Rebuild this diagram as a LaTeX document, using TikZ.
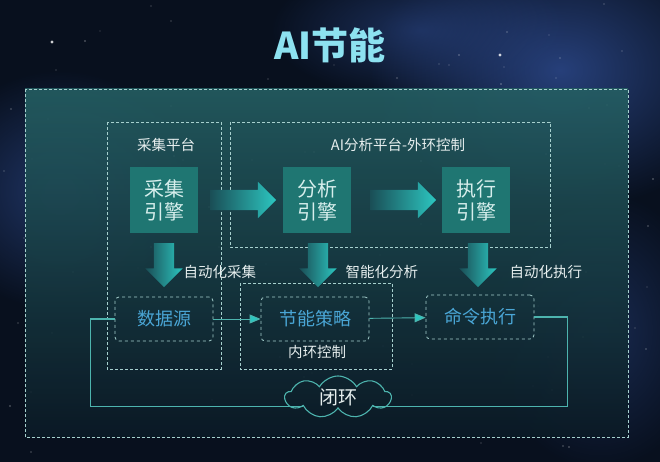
\documentclass[tikz,border=0pt]{standalone}
\usepackage{fontspec}
\setmainfont{Noto Sans CJK SC}
\usetikzlibrary{shapes.arrows,shapes.symbols,arrows.meta,fadings}

\definecolor{bgdark}{HTML}{08101E}
\definecolor{bgblue}{HTML}{2A4584}
\definecolor{paneltop}{HTML}{245E62}
\definecolor{panelbot}{HTML}{0B1A26}
\definecolor{enginefill}{HTML}{1F7672}
\definecolor{enginetext}{HTML}{D6EEEC}
\definecolor{titlecol}{HTML}{8DE2F0}
\definecolor{dashline}{HTML}{A6D0CE}
\definecolor{lbltext}{HTML}{E6EEEE}
\definecolor{srcblue}{HTML}{4AA6D6}
\definecolor{loopcol}{HTML}{4DB4AE}
\definecolor{arrowcyan}{HTML}{2CC6C0}
\definecolor{arrowfade}{HTML}{1A4E56}

\tikzfading[name=glowfade, inner color=transparent!0, outer color=transparent!100]

\begin{document}
\begin{tikzpicture}[x=1pt,y=-1pt,
  enginebox/.style={fill=enginefill, text=enginetext, minimum width=68pt, minimum height=66pt,
    align=center, inner sep=0pt, font=\fontsize{20}{23}\selectfont},
  platbox/.style={draw=dashline, densely dashed, line width=0.6pt},
  srcbox/.style={draw=dashline, dashed, line width=0.8pt, rounded corners=4pt, minimum width=98pt,
    minimum height=44pt, text=srcblue, font=\fontsize{18}{20}\selectfont},
  lbl/.style={text=lbltext, font=\fontsize{14.5}{16}\selectfont},
  fatright/.style={single arrow, single arrow head extend=8pt, inner ysep=10pt, inner xsep=0pt,
    minimum height=66pt, left color=arrowfade, right color=arrowcyan},
  fatdown/.style={fatright, rotate=-90, minimum height=44pt, single arrow head extend=8.5pt},
  thinarrow/.style={draw=loopcol, line width=0.9pt, -{Triangle[length=11pt,width=9pt,fill=arrowcyan]}},
  loopline/.style={draw=loopcol, line width=1.1pt}]

\useasboundingbox (0,0) rectangle (660,462);

% Draw background and stars
\fill[bgdark] (0,0) rectangle (660,462);
\fill[bgblue, path fading=glowfade, opacity=0.9] (560,70) ellipse [x radius=190, y radius=140];
\fill[bgblue, path fading=glowfade, opacity=0.7] (60,190) ellipse [x radius=130, y radius=120];
\fill[bgblue, path fading=glowfade, opacity=0.6] (420,30) ellipse [x radius=150, y radius=70];
\fill[bgblue, path fading=glowfade, opacity=0.5] (600,330) ellipse [x radius=110, y radius=140];
\pgfmathsetseed{11}
\foreach \i in {1,...,90}{
  \pgfmathsetmacro\sx{random(0,660)}
  \pgfmathsetmacro\sy{random(0,462)}
  \pgfmathsetmacro\so{0.3+0.6*rnd}
  \fill[white, opacity=\so] (\sx,\sy) circle [radius=0.7];
}
\fill[white, opacity=0.8] (52,42) circle [radius=1.6];
\fill[white, opacity=0.8] (500,55) circle [radius=1.6];

% Draw title
\node[text=titlecol, font=\fontsize{37}{40}\selectfont\bfseries] (title) at (330,45) {AI节能};

% Draw main panel
\shade[top color=paneltop, bottom color=panelbot, opacity=0.9] (25,89) rectangle (628,437);
\draw[dashline, densely dashed, line width=0.6pt] (25,89) rectangle (628,437);

% Draw platform frames
\draw[platbox] (107,122) rectangle (221,369);
\draw[platbox] (230,122) rectangle (550,247);
\draw[platbox] (240,283) rectangle (392,369);
\node[lbl] (collplat) at (166,145) {采集平台};
\node[lbl] (aiplat) at (398,145) {AI分析平台-外环控制};
\node[lbl] (inner) at (317,352) {内环控制};

% Draw engines
\node[enginebox] (collect) at (164,200) {采集\\引擎};
\node[enginebox] (analyse) at (317,200) {分析\\引擎};
\node[enginebox] (execute) at (476,200) {执行\\引擎};

% Draw fat arrows
\node[fatright] (ca) at (238,200) {};
\node[fatright] (ae) at (398,200) {};
\node[fatdown] (cd) at (164,260) {};
\node[fatdown] (ad) at (318,260) {};
\node[fatdown] (ed) at (478,260) {};
\node[lbl, anchor=west] (autocoll) at (180,272) {自动化采集};
\node[lbl, anchor=west] (smart) at (342,272) {智能化分析};
\node[lbl, anchor=west] (autoexec) at (506,272) {自动化执行};

% Draw inner loop boxes
\node[srcbox] (src) at (164,319) {数据源};
\node[srcbox, minimum width=108pt] (save) at (315,319) {节能策略};
\node[srcbox, minimum width=108pt] (cmd) at (480,317) {命令执行};
\draw[thinarrow] (src) -- (save);
\draw[thinarrow] (save) -- (cmd);

% Draw closed loop
\node[cloud, draw=loopcol, line width=1.1pt, cloud puffs=9, cloud puff arc=120, aspect=2.4,
  minimum width=106pt, minimum height=42pt, inner sep=0pt, text=lbltext,
  font=\fontsize{19}{20}\selectfont] (loop) at (338,397) {闭环};
\draw[loopline] (cmd.east) -- ++(33,0) |- (loop.345);
\draw[loopline] (src.west) -- ++(-24,0) |- (loop.195);

\end{tikzpicture}
\end{document}
